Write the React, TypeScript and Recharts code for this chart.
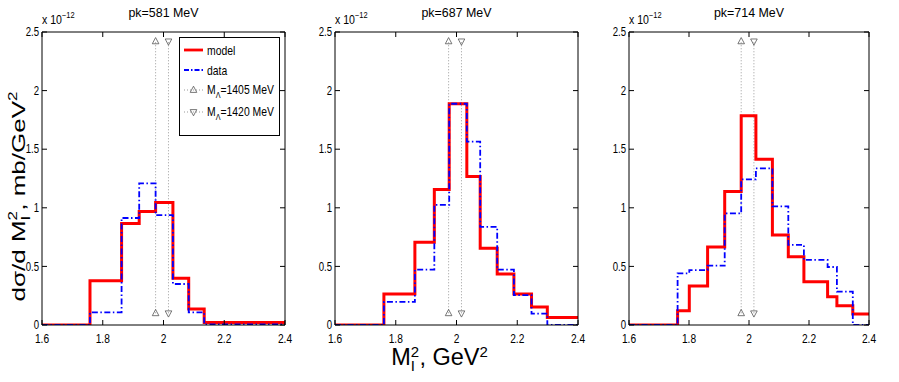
import React from 'react';
import { ComposedChart, Line, XAxis, YAxis, Legend } from 'recharts';

const FONT = '"Liberation Sans", Arial, Helvetica, sans-serif';

// axis ticks
const X_TICKS = [1.6, 1.8, 2, 2.2, 2.4];
const Y_TICKS = [0, 0.5, 1, 1.5, 2, 2.5];
const X_DOMAIN = [1.6, 2.4];
const Y_DOMAIN = [0, 2.5];

// panel titles
const PANEL_TITLES = ['pk=581 MeV', 'pk=687 MeV', 'pk=714 MeV'];
const SERIES_NAMES = ['model', 'data'];
const MARKER_NAMES = ['1405 MeV', '1420 MeV'];

// bin edges (M_I^2, GeV^2) and bin heights (x 1e-12 mb/GeV^2)
const edges581 = [1.6, 1.758, 1.862, 1.92, 1.974, 2.031, 2.083, 2.134, 2.4];
const model581 = [0, 0.377, 0.866, 0.968, 1.046, 0.398, 0.137, 0.022];
const data581 = [0, 0.108, 0.913, 1.208, 0.938, 0.35, 0.108, 0.006];

const edges687 = [1.6, 1.761, 1.863, 1.927, 1.976, 2.034, 2.078, 2.134, 2.189, 2.247, 2.299, 2.4];
const model687 = [0, 0.265, 0.707, 1.157, 1.888, 1.268, 0.655, 0.436, 0.265, 0.153, 0.063];
const data687 = [0, 0.197, 0.472, 1.025, 1.888, 1.565, 0.837, 0.472, 0.255, 0.097, 0];

const edges714 = [1.6, 1.762, 1.801, 1.862, 1.919, 1.974, 2.023, 2.078, 2.131, 2.183, 2.262, 2.293, 2.346, 2.4];
const model714 = [0, 0.122, 0.333, 0.665, 1.14, 1.785, 1.415, 0.768, 0.583, 0.37, 0.242, 0.165, 0.094];
const data714 = [0, 0.441, 0.469, 0.506, 0.952, 1.242, 1.336, 1.013, 0.684, 0.555, 0.495, 0.284, 0];

// Lambda(1405) / Lambda(1420) marker positions (M^2) and marker heights
const marker1405X = 1.974;
const marker1420X = 2.0164;
const markerY = [0.1, 2.42];

// layout (not data)
const LAYOUT = [
  { left: 0, width: 300, yAxisWidth: 42, marginRight: 14 },
  { left: 300, width: 300, yAxisWidth: 35, marginRight: 21 },
  { left: 600, width: 299, yAxisWidth: 29, marginRight: 29 },
];
const CHART_H = 382;
const MARGIN_TOP = 31;
const X_AXIS_H = 30;
const MARGIN_BOTTOM = 27;

const fmt = (v: number) => String(v);

function XTick(props: any) {
  const { x, y, payload } = props;
  return (
    <text transform={`translate(${x},${y}) scale(0.85,1)`} textAnchor="middle" dy="0.71em"
      fontSize={12} fontFamily={FONT} fill="#000">{fmt(payload.value)}</text>
  );
}

function YTick(props: any) {
  const { x, y, payload } = props;
  return (
    <text transform={`translate(${x},${y}) scale(0.8,1)`} textAnchor="end" dy="0.35em"
      fontSize={12} fontFamily={FONT} fill="#000">{fmt(payload.value)}</text>
  );
}

const upTri = (p: any) => (
  <path key={`u${p.index}`} d={`M${p.cx},${p.cy - 3.8}L${p.cx - 3.3},${p.cy + 2.4}L${p.cx + 3.3},${p.cy + 2.4}Z`}
    fill="none" stroke="#555" strokeWidth={0.8} />
);
const downTri = (p: any) => (
  <path key={`d${p.index}`} d={`M${p.cx},${p.cy + 3.8}L${p.cx - 3.3},${p.cy - 2.4}L${p.cx + 3.3},${p.cy - 2.4}Z`}
    fill="none" stroke="#555" strokeWidth={0.8} />
);

function makeTitle(title: string) {
  return (props: any) => {
    const vb = props.viewBox || { x: 0, y: 0, width: 0, height: 0 };
    const top = vb.y + (vb.height || 0);
    return (
      <g>
        <text transform={`translate(${vb.x + vb.width / 2},${top - 15}) scale(0.92,1)`} textAnchor="middle"
          fontSize={13.5} fontFamily={FONT} fill="#000">{title}</text>
        <text transform={`translate(${vb.x},${top - 8}) scale(0.88,1)`} textAnchor="start"
          fontSize={12} fontFamily={FONT} fill="#000">
          x 10<tspan fontSize={8.5} dy={-6}>−12</tspan>
        </text>
      </g>
    );
  };
}

function YLabel(props: any) {
  const vb = props.viewBox || { x: 0, y: 0, height: 0 };
  const cx = vb.x + 25;
  const cy = vb.y + vb.height / 2 + 18;
  return (
    <text transform={`translate(${cx},${cy}) scale(0.7,1) rotate(-90)`} textAnchor="middle"
      fontSize={26} fontFamily={FONT} fill="#000">
      dσ/d M<tspan fontSize={17} dy={-12}>2</tspan><tspan fontSize={17} dx={-9.5} dy={19}>I</tspan>
      <tspan dx={5} dy={-7}>, mb/GeV</tspan><tspan fontSize={17} dy={-12}>2</tspan>
    </text>
  );
}

function XLabel(props: any) {
  const vb = props.viewBox || { x: 0, y: 0, width: 0 };
  const cx = vb.x + vb.width / 2 - 17;
  const cy = vb.y + 40;
  return (
    <text transform={`translate(${cx},${cy}) scale(1,1)`} textAnchor="middle"
      fontSize={23.5} fontFamily={FONT} fill="#000">
      M<tspan fontSize={15} dy={-8}>2</tspan><tspan fontSize={15} dx={-8.3} dy={14}>I</tspan>
      <tspan dx={4.5} dy={-6}>, GeV</tspan><tspan fontSize={15} dy={-8}>2</tspan>
    </text>
  );
}

function LegendBox() {
  const t = (x: number, y: number, children: any) => (
    <text transform={`translate(${x},${y}) scale(0.8,1)`} fontSize={13} fontFamily={FONT} fill="#000">{children}</text>
  );
  return (
    <svg width={101} height={99} style={{ display: 'block' }}>
      <rect x={0.5} y={0.5} width={100} height={98} fill="#fff" stroke="#000" strokeWidth={1} />
      <line x1={5} x2={24} y1={13} y2={13} stroke="#ff0000" strokeWidth={2.8} />
      {t(28, 17.5, SERIES_NAMES[0])}
      <line x1={5} x2={24} y1={33} y2={33} stroke="#0000ff" strokeWidth={1.8} strokeDasharray="5 2 1.5 2" />
      {t(28, 37.5, SERIES_NAMES[1])}
      <line x1={5} x2={24} y1={53} y2={53} stroke="#999" strokeWidth={1} strokeDasharray="1 2" />
      {upTri({ cx: 14.5, cy: 53, index: 0 })}
      {t(28, 57, <>M<tspan fontSize={9} dy={4}>Λ</tspan><tspan dy={-4}>={MARKER_NAMES[0]}</tspan></>)}
      <line x1={5} x2={24} y1={75} y2={75} stroke="#999" strokeWidth={1} strokeDasharray="1 2" />
      {downTri({ cx: 14.5, cy: 75, index: 0 })}
      {t(28, 79, <>M<tspan fontSize={9} dy={4}>Λ</tspan><tspan dy={-4}>={MARKER_NAMES[1]}</tspan></>)}
    </svg>
  );
}

function Panel({ idx, edges, model, data }: { idx: number; edges: number[]; model: number[]; data: number[] }) {
  const cfg = LAYOUT[idx];
  const rows = edges.map((x, i) => ({
    x,
    model: model[Math.min(i, model.length - 1)],
    data: data[Math.min(i, data.length - 1)],
  }));
  const m1405 = markerY.map((y) => ({ x: marker1405X, y }));
  const m1420 = markerY.map((y) => ({ x: marker1420X, y }));
  const axisLine = { stroke: '#000', strokeWidth: 1 };
  const tickLine = { stroke: '#000', strokeWidth: 1 };
  return (
    <div style={{ position: 'absolute', left: cfg.left, top: 0 }}>
      <ComposedChart width={cfg.width} height={CHART_H} data={rows}
        margin={{ top: MARGIN_TOP, right: cfg.marginRight, bottom: MARGIN_BOTTOM, left: 0 }}>
        <XAxis xAxisId="b" dataKey="x" type="number" domain={X_DOMAIN} ticks={X_TICKS} allowDataOverflow
          orientation="bottom" height={X_AXIS_H} tickSize={-5} tickMargin={14} tick={XTick}
          axisLine={axisLine} tickLine={tickLine} interval={0}
          label={idx === 1 ? XLabel : undefined} />
        <XAxis xAxisId="t" dataKey="x" type="number" domain={X_DOMAIN} ticks={X_TICKS} allowDataOverflow
          orientation="top" height={1} tickSize={-5} tickMargin={0} tickFormatter={() => ''}
          axisLine={axisLine} tickLine={tickLine} interval={0}
          label={makeTitle(PANEL_TITLES[idx])} />
        <YAxis yAxisId="l" type="number" domain={Y_DOMAIN} ticks={Y_TICKS} allowDataOverflow
          orientation="left" width={cfg.yAxisWidth} tickSize={-5} tickMargin={8} tick={YTick}
          axisLine={axisLine} tickLine={tickLine} interval={0}
          label={idx === 0 ? YLabel : undefined} />
        <YAxis yAxisId="r" type="number" domain={Y_DOMAIN} ticks={Y_TICKS} allowDataOverflow
          orientation="right" width={1} tickSize={-5} tickMargin={0} tickFormatter={() => ''}
          axisLine={axisLine} tickLine={tickLine} interval={0} />
        {/* invisible series binding the top / right frame axes */}
        <Line xAxisId="t" yAxisId="r" dataKey="model" type="stepAfter" stroke="transparent" strokeWidth={1}
          dot={false} activeDot={false} isAnimationActive={false} legendType="none" />
        <Line xAxisId="b" yAxisId="l" data={m1405} dataKey="y" type="linear" stroke="#9a9a9a" strokeWidth={1}
          strokeDasharray="1 2" dot={upTri} activeDot={false} isAnimationActive={false} legendType="none" />
        <Line xAxisId="b" yAxisId="l" data={m1420} dataKey="y" type="linear" stroke="#9a9a9a" strokeWidth={1}
          strokeDasharray="1 2" dot={downTri} activeDot={false} isAnimationActive={false} legendType="none" />
        <Line xAxisId="b" yAxisId="l" dataKey="model" type="stepAfter" stroke="#ff0000" strokeWidth={3}
          dot={false} activeDot={false} isAnimationActive={false} />
        <Line xAxisId="b" yAxisId="l" dataKey="data" type="stepAfter" stroke="#0000ff" strokeWidth={1.8}
          strokeDasharray="6 2.5 1.5 2.5" dot={false} activeDot={false} isAnimationActive={false} />
        {idx === 0 && (
          <Legend layout="vertical" align="center" verticalAlign="middle" content={LegendBox}
            wrapperStyle={{ position: 'absolute', left: 179, top: 37, width: 101, height: 99 }} />
        )}
      </ComposedChart>
    </div>
  );
}

export default function App() {
  return (
    <div style={{ position: 'absolute', left: 0, top: 0, width: 899, height: 382, background: '#fff' }}>
      <Panel idx={0} edges={edges581} model={model581} data={data581} />
      <Panel idx={1} edges={edges687} model={model687} data={data687} />
      <Panel idx={2} edges={edges714} model={model714} data={data714} />
    </div>
  );
}
